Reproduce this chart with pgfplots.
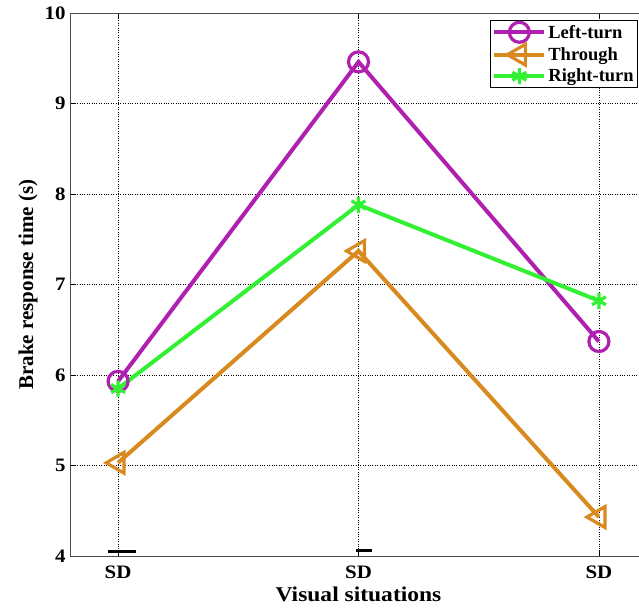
\documentclass[border=0pt]{standalone}
\usepackage{pgfplots}
\pgfplotsset{compat=1.18}
\usepackage{fontspec}
\setmainfont{Liberation Serif}
\newfontfamily\wide[FakeStretch=1.1]{Liberation Serif}
\newfontfamily\wider[FakeStretch=1.12]{Liberation Serif}
\definecolor{cpur}{RGB}{176,32,176}
\definecolor{cora}{RGB}{217,138,30}
\definecolor{cgre}{RGB}{50,240,50}
\begin{document}
\begin{tikzpicture}
\begin{axis}[
  scale only axis, width=577pt, height=543pt,
  xmin=0.8, xmax=3.2, ymin=4, ymax=10,
  xtick={1,2,3}, xticklabels={SD,SD,SD},
  ytick={4,5,6,7,8,9,10},
  /pgf/number format/assume math mode=true,
  tick label style={font=\wide\fontsize{19}{21}\selectfont\bfseries},
  xticklabel style={yshift=-6pt},
  yticklabel style={xshift=-1pt},
  xlabel={Visual situations}, ylabel={Brake response time (s)},
  xlabel style={font=\wider\fontsize{21}{23}\selectfont\bfseries, yshift=-2pt},
  ylabel style={font=\fontsize{21}{23}\selectfont\bfseries, yshift=0pt},
  grid=major, major grid style={black, dotted, line width=0.8pt},
  tick align=inside, major tick length=6pt,
  axis line style={gray!60!black, line width=0.8pt},
  tick style={black, line width=0.6pt},
  legend style={at={(1,1)}, anchor=north east, xshift=-9pt, yshift=-7pt,
    font=\fontsize{18.5}{20}\selectfont\bfseries, draw=black, line width=0.6pt,
    row sep=2pt, inner sep=2pt, inner xsep=2pt},
  legend cell align=left,
  legend image code/.code={\draw[#1] (0pt,0pt) -- (50pt,0pt); \draw[#1] plot coordinates {(25pt,0pt)};},
]
\addplot[cpur, line width=4pt, mark=o, mark size=10pt, mark options={line width=3.2pt}]
  coordinates {(1,5.93) (2,9.46) (3,6.37)};
\addlegendentry{Left-turn}
\addplot[cora, line width=4pt, mark=triangle, mark size=12pt, mark options={rotate=90, line width=3.2pt}]
  coordinates {(1,5.03) (2,7.37) (3,4.43)};
\addlegendentry{Through}
\addplot[cgre, line width=4pt, mark=asterisk, mark size=8pt, mark options={line width=3.2pt}]
  coordinates {(1,5.85) (2,7.88) (3,6.82)};
\addlegendentry{Right-turn}
\addplot[black, line width=3pt, forget plot] coordinates {(0.958,4.045) (1.075,4.045)};
\addplot[black, line width=3pt, forget plot] coordinates {(1.99,4.065) (2.055,4.065)};
\end{axis}
\pgfresetboundingbox
\path ([shift={(-70pt,-53pt)}]current axis.south west) rectangle ([shift={(-8pt,13pt)}]current axis.north east);
\end{tikzpicture}
\end{document}
